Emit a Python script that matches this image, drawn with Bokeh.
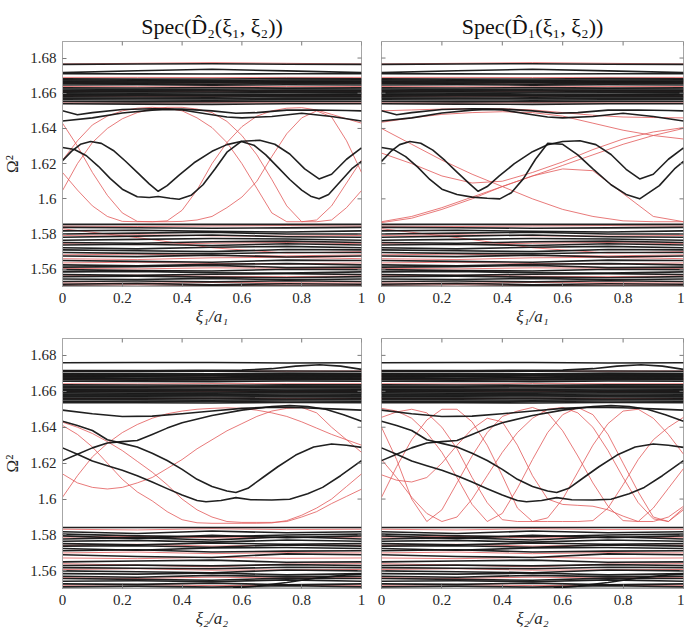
import math
from bokeh.plotting import figure
from bokeh.models import FixedTicker, CustomJSTickFormatter, Range1d
from bokeh.layouts import column, row
from bokeh.embed import file_html
from bokeh.resources import INLINE

# ---------------- data ----------------
X_TICKS = [0, 0.2, 0.4, 0.6, 0.8, 1]
Y_TICKS = [1.56, 1.58, 1.6, 1.62, 1.64, 1.66, 1.68]
TITLES = ["Spec(D̂₂(ξ₁, ξ₂))", "Spec(D̂₁(ξ₁, ξ₂))"]
XLABELS = ["ξ₁/a₁", "ξ₂/a₂"]
YLABEL = "Ω²"

X5 = [0.0, 0.25, 0.5, 0.75, 1.0]
X11 = [0.0, 0.1, 0.2, 0.3, 0.4, 0.5, 0.6, 0.7, 0.8, 0.9, 1.0]
X21 = [0.0, 0.05, 0.1, 0.15, 0.2, 0.25, 0.3, 0.35, 0.4, 0.45, 0.5,
       0.55, 0.6, 0.65, 0.7, 0.75, 0.8, 0.85, 0.9, 0.95, 1.0]

# --- top row: dense bands (values at X5) ---
TOP_UPPER_BLACK = [
    [1.6764, 1.6766, 1.6768, 1.6765, 1.6764],
    [1.6717, 1.6728, 1.6736, 1.6727, 1.6717],
    [1.6711, 1.6710, 1.6709, 1.6711, 1.6711],
    [1.6682, 1.6680, 1.6681, 1.6683, 1.6682],
    [1.6676, 1.6674, 1.6673, 1.6675, 1.6676],
    [1.6669, 1.6668, 1.6666, 1.6669, 1.6669],
    [1.6662, 1.6660, 1.6661, 1.6663, 1.6662],
    [1.6655, 1.6654, 1.6652, 1.6656, 1.6655],
    [1.6647, 1.6648, 1.6646, 1.6648, 1.6647],
    [1.6631, 1.6630, 1.6632, 1.6630, 1.6631],
    [1.6624, 1.6622, 1.6623, 1.6625, 1.6624],
    [1.6617, 1.6615, 1.6614, 1.6617, 1.6617],
    [1.6609, 1.6608, 1.6607, 1.6610, 1.6609],
    [1.6602, 1.6600, 1.6601, 1.6603, 1.6602],
    [1.6595, 1.6593, 1.6592, 1.6594, 1.6595],
    [1.6588, 1.6587, 1.6586, 1.6589, 1.6588],
    [1.6580, 1.6579, 1.6578, 1.6581, 1.6580],
    [1.6572, 1.6571, 1.6570, 1.6572, 1.6572],
    [1.6563, 1.6562, 1.6561, 1.6563, 1.6563],
    [1.6553, 1.6551, 1.6552, 1.6554, 1.6553],
    [1.6540, 1.6538, 1.6537, 1.6540, 1.6540],
]
TOP_UPPER_RED = [
    [1.6766, 1.6770, 1.6774, 1.6770, 1.6766],
    [1.6690, 1.6690, 1.6689, 1.6690, 1.6690],
    [1.6658, 1.6657, 1.6659, 1.6658, 1.6658],
    [1.6638, 1.6637, 1.6636, 1.6638, 1.6638],
    [1.6612, 1.6611, 1.6612, 1.6613, 1.6612],
    [1.6584, 1.6583, 1.6584, 1.6585, 1.6584],
    [1.6545, 1.6544, 1.6546, 1.6545, 1.6545],
]
TOP_LOWER_BLACK = [
    [1.5855, 1.5855, 1.5855, 1.5855, 1.5855],
    [1.5838, 1.5836, 1.5833, 1.5835, 1.5838],
    [1.5818, 1.5822, 1.5815, 1.5812, 1.5818],
    [1.5800, 1.5805, 1.5810, 1.5800, 1.5800],
    [1.5782, 1.5788, 1.5795, 1.5785, 1.5782],
    [1.5765, 1.5770, 1.5775, 1.5772, 1.5765],
    [1.5752, 1.5748, 1.5756, 1.5760, 1.5752],
    [1.5738, 1.5742, 1.5735, 1.5745, 1.5738],
    [1.5722, 1.5716, 1.5725, 1.5730, 1.5722],
    [1.5710, 1.5705, 1.5700, 1.5712, 1.5710],
    [1.5695, 1.5690, 1.5688, 1.5695, 1.5695],
    [1.5675, 1.5672, 1.5680, 1.5670, 1.5675],
    [1.5650, 1.5645, 1.5640, 1.5652, 1.5650],
    [1.5625, 1.5620, 1.5628, 1.5632, 1.5625],
    [1.5612, 1.5615, 1.5622, 1.5610, 1.5612],
    [1.5598, 1.5592, 1.5590, 1.5600, 1.5598],
    [1.5585, 1.5588, 1.5580, 1.5578, 1.5585],
    [1.5570, 1.5565, 1.5572, 1.5575, 1.5570],
    [1.5558, 1.5560, 1.5555, 1.5552, 1.5558],
    [1.5545, 1.5542, 1.5548, 1.5540, 1.5545],
    [1.5530, 1.5533, 1.5528, 1.5535, 1.5530],
    [1.5515, 1.5520, 1.5512, 1.5518, 1.5515],
    [1.5505, 1.5502, 1.5506, 1.5504, 1.5505],
]
TOP_LOWER_RED = [
    [1.5845, 1.5843, 1.5846, 1.5848, 1.5845],
    [1.5792, 1.5796, 1.5790, 1.5788, 1.5792],
    [1.5830, 1.5780, 1.5722, 1.5692, 1.5700],
    [1.5745, 1.5740, 1.5748, 1.5752, 1.5745],
    [1.5682, 1.5686, 1.5678, 1.5676, 1.5682],
    [1.5660, 1.5655, 1.5665, 1.5668, 1.5660],
    [1.5636, 1.5640, 1.5632, 1.5630, 1.5636],
    [1.5605, 1.5602, 1.5608, 1.5606, 1.5605],
    [1.5562, 1.5566, 1.5560, 1.5558, 1.5562],
    [1.5522, 1.5520, 1.5525, 1.5523, 1.5522],
    [1.5510, 1.5512, 1.5509, 1.5511, 1.5510],
]

# --- top row: gap curves (own knots) ---
TOP_U1_X = [0, 0.05, 0.1, 0.2, 0.3, 0.4, 0.5, 0.58, 0.65, 0.75, 0.85, 0.95, 1]
TOP_U1_Y = [1.6500, 1.6478, 1.6490, 1.6508, 1.6512, 1.6510, 1.6500, 1.6486, 1.6490, 1.6504, 1.6505, 1.6502, 1.6500]
TOP_U2_X = [0, 0.1, 0.2, 0.3, 0.35, 0.4, 0.5, 0.55, 0.6, 0.7, 0.8, 0.9, 1]
TOP_U2_Y = [1.6442, 1.6460, 1.6488, 1.6504, 1.6508, 1.6505, 1.6478, 1.6465, 1.6460, 1.6468, 1.6486, 1.6468, 1.6442]

TL_P_X = [0, 0.03, 0.06, 0.094, 0.13, 0.17, 0.21, 0.25, 0.29, 0.32, 0.35, 0.39, 0.44, 0.5,
          0.55, 0.6, 0.66, 0.71, 0.76, 0.81, 0.858, 0.9, 0.95, 1]
TL_P_Y = [1.6217, 1.6270, 1.6310, 1.6326, 1.6315, 1.6275, 1.6215, 1.6150, 1.6085, 1.6043, 1.6075, 1.6135, 1.6205, 1.6270,
          1.6308, 1.6327, 1.6333, 1.6310, 1.6255, 1.6170, 1.6113, 1.6140, 1.6225, 1.6289]
TL_Q_X = [0, 0.04, 0.08, 0.12, 0.16, 0.2, 0.25, 0.29, 0.32, 0.36, 0.39, 0.43, 0.47, 0.51,
          0.55, 0.598, 0.64, 0.68, 0.72, 0.76, 0.8, 0.83, 0.858, 0.89, 0.93, 0.97, 1]
TL_Q_Y = [1.6292, 1.6280, 1.6245, 1.6185, 1.6115, 1.6055, 1.6012, 1.6008, 1.6013, 1.6003, 1.5998, 1.6020, 1.6080, 1.6170,
          1.6265, 1.6326, 1.6305, 1.6250, 1.6180, 1.6110, 1.6050, 1.6015, 1.6000, 1.6025, 1.6100, 1.6175, 1.6213]
TL_RED_A = [1.6430, 1.6300, 1.6150, 1.6020, 1.5920, 1.5872, 1.5870, 1.5875, 1.5935, 1.6050, 1.6200,
            1.6320, 1.6410, 1.6470, 1.6500, 1.6515, 1.6518, 1.6505, 1.6480, 1.6455, 1.6430]
TL_RED_B = [1.6150, 1.6050, 1.5960, 1.5900, 1.5872, 1.5870, 1.5870, 1.5870, 1.5872, 1.5880, 1.5900,
            1.5950, 1.6010, 1.6100, 1.6240, 1.6370, 1.6460, 1.6500, 1.6465, 1.6330, 1.6150]
TL_RED_C = [1.6220, 1.6330, 1.6420, 1.6470, 1.6500, 1.6515, 1.6520, 1.6515, 1.6500, 1.6460, 1.6405,
            1.6320, 1.6200, 1.6060, 1.5920, 1.5870, 1.5870, 1.5880, 1.5960, 1.6090, 1.6220]
TL_RED_D = [1.6047, 1.6200, 1.6320, 1.6400, 1.6455, 1.6490, 1.6510, 1.6520, 1.6520, 1.6510, 1.6490,
            1.6440, 1.6360, 1.6250, 1.6110, 1.5960, 1.5870, 1.5870, 1.5880, 1.5950, 1.6047]

TR_P_X = [0, 0.03, 0.06, 0.094, 0.13, 0.17, 0.21, 0.25, 0.29, 0.32, 0.35, 0.39, 0.44, 0.5,
          0.55, 0.6, 0.657, 0.71, 0.76, 0.81, 0.855, 0.9, 0.95, 1]
TR_P_Y = [1.6213, 1.6268, 1.6308, 1.6326, 1.6316, 1.6277, 1.6218, 1.6152, 1.6088, 1.6043, 1.6070, 1.6130, 1.6200, 1.6268,
          1.6307, 1.6326, 1.6330, 1.6308, 1.6252, 1.6168, 1.6113, 1.6140, 1.6225, 1.6289]
TR_Q_X = [0, 0.04, 0.08, 0.12, 0.16, 0.2, 0.25, 0.3, 0.35, 0.392, 0.43, 0.47, 0.51, 0.55,
          0.6, 0.65, 0.7, 0.76, 0.81, 0.855, 0.92, 0.97, 1]
TR_Q_Y = [1.6292, 1.6280, 1.6240, 1.6180, 1.6110, 1.6055, 1.6025, 1.6010, 1.6003, 1.6000, 1.6035, 1.6115, 1.6225, 1.6315,
          1.6310, 1.6250, 1.6170, 1.6080, 1.6025, 1.6000, 1.6075, 1.6170, 1.6213]
TR_RED_1 = [1.6400, 1.6310, 1.6220, 1.6140, 1.6070, 1.6000, 1.5940, 1.5900, 1.5875, 1.5870, 1.5870]
TR_RED_2 = [1.5870, 1.5900, 1.5950, 1.6010, 1.6070, 1.6130, 1.6190, 1.6250, 1.6310, 1.6360, 1.6400]
TR_RED_3 = [1.6260, 1.6200, 1.6130, 1.6090, 1.6100, 1.6150, 1.6210, 1.6280, 1.6340, 1.6380, 1.6405]
TR_RED_4 = [1.5865, 1.5890, 1.5940, 1.6000, 1.6070, 1.6130, 1.6170, 1.6160, 1.6030, 1.5900, 1.5870]
TR_RED_5 = [1.6435, 1.6460, 1.6480, 1.6490, 1.6495, 1.6490, 1.6470, 1.6430, 1.6390, 1.6360, 1.6340]
TR_RED_6 = [1.6500, 1.6505, 1.6510, 1.6512, 1.6512, 1.6505, 1.6490, 1.6475, 1.6465, 1.6462, 1.6460]

# --- bottom row: dense bands (values at X5) ---
BOT_UPPER_BLACK = [
    [1.6759, 1.6760, 1.6760, 1.6758, 1.6759],
    [1.6712, 1.6711, 1.6712, 1.6713, 1.6712],
    [1.6700, 1.6699, 1.6698, 1.6701, 1.6700],
    [1.6694, 1.6693, 1.6692, 1.6695, 1.6694],
    [1.6688, 1.6686, 1.6687, 1.6689, 1.6688],
    [1.6682, 1.6681, 1.6680, 1.6683, 1.6682],
    [1.6676, 1.6674, 1.6675, 1.6677, 1.6676],
    [1.6670, 1.6669, 1.6668, 1.6671, 1.6670],
    [1.6664, 1.6662, 1.6663, 1.6665, 1.6664],
    [1.6656, 1.6655, 1.6654, 1.6657, 1.6656],
    [1.6636, 1.6635, 1.6634, 1.6636, 1.6636],
    [1.6628, 1.6627, 1.6626, 1.6629, 1.6628],
    [1.6620, 1.6619, 1.6618, 1.6621, 1.6620],
    [1.6612, 1.6611, 1.6610, 1.6613, 1.6612],
    [1.6605, 1.6603, 1.6604, 1.6606, 1.6605],
    [1.6598, 1.6597, 1.6596, 1.6599, 1.6598],
    [1.6591, 1.6589, 1.6590, 1.6592, 1.6591],
    [1.6584, 1.6583, 1.6582, 1.6585, 1.6584],
    [1.6577, 1.6575, 1.6576, 1.6578, 1.6577],
    [1.6570, 1.6569, 1.6568, 1.6571, 1.6570],
    [1.6562, 1.6561, 1.6560, 1.6563, 1.6562],
    [1.6553, 1.6552, 1.6551, 1.6554, 1.6553],
    [1.6545, 1.6543, 1.6544, 1.6546, 1.6545],
    [1.6537, 1.6536, 1.6535, 1.6538, 1.6537],
]
BOT_UPPER_RED = [
    [1.6713, 1.6714, 1.6713, 1.6712, 1.6713],
    [1.6685, 1.6684, 1.6686, 1.6685, 1.6685],
    [1.6668, 1.6667, 1.6669, 1.6668, 1.6668],
    [1.6642, 1.6641, 1.6643, 1.6642, 1.6642],
    [1.6600, 1.6601, 1.6600, 1.6599, 1.6600],
    [1.6560, 1.6559, 1.6561, 1.6560, 1.6560],
]
BOT_LOWER_BLACK = [
    [1.5842, 1.5842, 1.5842, 1.5842, 1.5842],
    [1.5818, 1.5808, 1.5822, 1.5812, 1.5818],
    [1.5805, 1.5795, 1.5790, 1.5800, 1.5805],
    [1.5795, 1.5780, 1.5798, 1.5785, 1.5795],
    [1.5778, 1.5785, 1.5772, 1.5790, 1.5778],
    [1.5765, 1.5770, 1.5760, 1.5772, 1.5765],
    [1.5752, 1.5745, 1.5755, 1.5748, 1.5752],
    [1.5738, 1.5740, 1.5732, 1.5745, 1.5738],
    [1.5725, 1.5715, 1.5728, 1.5730, 1.5725],
    [1.5712, 1.5718, 1.5705, 1.5710, 1.5712],
    [1.5690, 1.5680, 1.5675, 1.5695, 1.5690],
    [1.5650, 1.5655, 1.5660, 1.5648, 1.5650],
    [1.5630, 1.5632, 1.5628, 1.5635, 1.5630],
    [1.5618, 1.5615, 1.5612, 1.5620, 1.5618],
    [1.5600, 1.5595, 1.5590, 1.5605, 1.5600],
    [1.5585, 1.5582, 1.5588, 1.5578, 1.5585],
    [1.5570, 1.5565, 1.5575, 1.5568, 1.5570],
    [1.5558, 1.5553, 1.5548, 1.5560, 1.5558],
    [1.5542, 1.5545, 1.5540, 1.5550, 1.5542],
    [1.5528, 1.5525, 1.5532, 1.5522, 1.5528],
    [1.5512, 1.5515, 1.5510, 1.5518, 1.5512],
    [1.5503, 1.5502, 1.5504, 1.5502, 1.5503],
]
BOT_LOWER_RED = [
    [1.5832, 1.5828, 1.5835, 1.5830, 1.5832],
    [1.5788, 1.5792, 1.5784, 1.5786, 1.5788],
    [1.5742, 1.5748, 1.5738, 1.5744, 1.5742],
    [1.5700, 1.5705, 1.5696, 1.5702, 1.5700],
    [1.5672, 1.5668, 1.5676, 1.5670, 1.5672],
    [1.5640, 1.5632, 1.5622, 1.5638, 1.5640],
    [1.5608, 1.5612, 1.5604, 1.5606, 1.5608],
    [1.5562, 1.5558, 1.5565, 1.5560, 1.5562],
    [1.5520, 1.5524, 1.5518, 1.5521, 1.5520],
]

# --- bottom row: gap curves ---
BOT_TOPLINE_X = [0, 0.3, 0.6, 0.7, 0.78, 0.86, 0.93, 1]
BOT_TOPLINE_Y = [1.6716, 1.6716, 1.6718, 1.6726, 1.6740, 1.6748, 1.6740, 1.6722]
BOT_RISE_X = [0.57, 0.65, 0.75, 0.85, 0.95, 1]
BOT_RISE_Y = [1.5505, 1.5515, 1.5535, 1.5560, 1.5578, 1.5582]
BOT_B1_X = [0, 0.1, 0.2, 0.3, 0.4, 0.5, 0.6, 0.7, 0.8, 0.9, 1]
BOT_B1_Y = [1.6495, 1.6475, 1.6460, 1.6462, 1.6475, 1.6490, 1.6505, 1.6512, 1.6508, 1.6502, 1.6495]
BOT_B2_X = [0, 0.05, 0.1, 0.15, 0.2, 0.25, 0.3, 0.35, 0.4, 0.45, 0.5, 0.55, 0.58, 0.62, 0.67, 0.72, 0.78, 0.84, 0.9, 0.95, 1]
BOT_B2_Y = [1.6433, 1.6410, 1.6382, 1.6330, 1.6310, 1.6290, 1.6255, 1.6215, 1.6165, 1.6110, 1.6070, 1.6045, 1.6037, 1.6060, 1.6120, 1.6180, 1.6245, 1.6290, 1.6307, 1.6300, 1.6288]
BOT_B3_X = [0, 0.05, 0.1, 0.15, 0.2, 0.25, 0.3, 0.35, 0.4, 0.5, 0.6, 0.7, 0.76, 0.82, 0.88, 0.94, 1]
BOT_B3_Y = [1.6214, 1.6250, 1.6285, 1.6312, 1.6320, 1.6326, 1.6360, 1.6395, 1.6425, 1.6465, 1.6495, 1.6515, 1.6520, 1.6515, 1.6500, 1.6470, 1.6433]
BOT_B4_X = [0, 0.05, 0.1, 0.15, 0.2, 0.25, 0.3, 0.35, 0.4, 0.45, 0.48, 0.53, 0.58, 0.63, 0.7, 0.76, 0.82, 0.87, 0.93, 1]
BOT_B4_Y = [1.6285, 1.6250, 1.6212, 1.6186, 1.6160, 1.6130, 1.6095, 1.6058, 1.6022, 1.5992, 1.5985, 1.5992, 1.6008, 1.5996, 1.5995, 1.5999, 1.6030, 1.6065, 1.6130, 1.6214]

BL_RED_A = [1.6428, 1.6400, 1.6365, 1.6320, 1.6270, 1.6210, 1.6150, 1.6080, 1.6000, 1.5940, 1.5900,
            1.5875, 1.5870, 1.5870, 1.5870, 1.5875, 1.5900, 1.5930, 1.5975, 1.6015, 1.6055]
BL_RED_B = [1.6140, 1.6090, 1.6065, 1.6056, 1.6065, 1.6090, 1.6120, 1.6170, 1.6220, 1.6280, 1.6330,
            1.6380, 1.6420, 1.6460, 1.6490, 1.6505, 1.6510, 1.6480, 1.6400, 1.6330, 1.6260]
BL_RED_C = [1.6010, 1.6130, 1.6235, 1.6310, 1.6370, 1.6415, 1.6450, 1.6475, 1.6490, 1.6500, 1.6505,
            1.6508, 1.6505, 1.6495, 1.6480, 1.6460, 1.6430, 1.6395, 1.6360, 1.6330, 1.6300]
BL_RED_D = [1.6410, 1.6360, 1.6290, 1.6200, 1.6110, 1.6040, 1.5990, 1.5930, 1.5885, 1.5868, 1.5865,
            1.5865, 1.5865, 1.5865, 1.5867, 1.5880, 1.5910, 1.5950, 1.6000, 1.6070, 1.6140]

BR_RED_1 = [1.6400, 1.6220, 1.6000, 1.5875, 1.5940, 1.6090, 1.6240, 1.6370, 1.6460, 1.6490, 1.6510,
            1.6480, 1.6380, 1.6240, 1.6090, 1.5960, 1.5880, 1.5875, 1.5950, 1.6060, 1.6170]
BR_RED_2 = [1.6505, 1.6490, 1.6450, 1.6370, 1.6260, 1.6120, 1.5970, 1.5875, 1.5920, 1.6060, 1.6220,
            1.6370, 1.6470, 1.6510, 1.6470, 1.6360, 1.6200, 1.6040, 1.5900, 1.5875, 1.5950]
BR_RED_3 = [1.6010, 1.6180, 1.6330, 1.6440, 1.6500, 1.6500, 1.6430, 1.6300, 1.6130, 1.5950, 1.5875,
            1.5895, 1.6000, 1.6150, 1.6300, 1.6420, 1.6490, 1.6500, 1.6450, 1.6360, 1.6250]
BR_RED_4 = [1.6220, 1.6120, 1.6010, 1.5920, 1.5875, 1.5900, 1.6000, 1.6130, 1.6260, 1.6370, 1.6450,
            1.6500, 1.6510, 1.6480, 1.6400, 1.6270, 1.6120, 1.5980, 1.5890, 1.5875, 1.5940]
BR_RED_5 = [1.6135, 1.6105, 1.6095, 1.6120, 1.6200, 1.6300, 1.6390, 1.6450, 1.6430, 1.6300, 1.6130,
            1.6000, 1.5970, 1.5965, 1.5960, 1.5940, 1.5905, 1.5875, 1.5875, 1.5900, 1.5960]
BR_RED_6 = [1.6455, 1.6485, 1.6500, 1.6480, 1.6400, 1.6280, 1.6120, 1.5980, 1.5885, 1.5875, 1.5875,
            1.5875, 1.5875, 1.5875, 1.5880, 1.5950, 1.6080, 1.6220, 1.6330, 1.6400, 1.6455]

# ---------------- styling ----------------
SERIF = "Liberation Serif"
FRAME = "#a6a6a6"
TICK = "#7a7a7a"
BLACK = "#141414"
RED = "#e25a5a"
Y_MIN, Y_MAX = 1.5502, 1.6894
X_MIN, X_MAX = 0.0, 1.0


def style_axis(ax):
    ax.major_tick_in = 4
    ax.major_tick_out = 0
    ax.minor_tick_line_color = None
    ax.axis_line_color = FRAME
    ax.major_tick_line_color = TICK
    ax.major_label_text_font = SERIF
    ax.formatter = CustomJSTickFormatter(code="return String(Number(tick.toFixed(2)));")
    ax.major_label_text_font_size = "15px"
    ax.major_label_text_color = "#262626"
    ax.major_label_standoff = 6


def make_panel(width, height, borders, title, xlabel, ylab, reds, blacks):
    left, right, top, bottom = borders
    p = figure(width=width, height=height, x_range=Range1d(X_MIN, X_MAX),
               y_range=Range1d(Y_MIN, Y_MAX), output_backend="svg",
               toolbar_location=None, title=title,
               min_border_left=left, min_border_right=right,
               min_border_top=top, min_border_bottom=bottom)
    p.grid.visible = False
    p.outline_line_color = FRAME
    p.outline_line_width = 1
    p.background_fill_color = "white"
    p.border_fill_color = "white"
    if title:
        p.title.align = "center"
        p.title.text_font = SERIF
        p.title.text_font_size = "22px"
        p.title.text_font_style = "normal"
        p.title.text_color = "#111111"
        p.title.standoff = 5
    p.xaxis.ticker = FixedTicker(ticks=X_TICKS)
    style_axis(p.xaxis[0])
    p.xaxis.axis_label = xlabel
    p.xaxis.axis_label_text_font = SERIF
    p.xaxis.axis_label_text_font_size = "17px"
    p.xaxis.axis_label_text_font_style = "italic"
    p.xaxis.axis_label_text_color = "#262626"
    p.xaxis.axis_label_standoff = 1
    if ylab:
        p.yaxis.ticker = FixedTicker(ticks=Y_TICKS)
        style_axis(p.yaxis[0])
        p.yaxis.axis_label = YLABEL
        p.yaxis.axis_label_text_font = SERIF
        p.yaxis.axis_label_text_font_size = "17px"
        p.yaxis.axis_label_text_font_style = "normal"
        p.yaxis.axis_label_text_color = "#262626"
        p.yaxis.axis_label_standoff = 5
    else:
        p.yaxis.visible = False

    rx, ry = [], []
    for xs, ys in reds:
        rx.append(list(xs))
        ry.append(list(ys))
    p.multi_line(rx, ry, line_color=RED, line_width=0.9, line_alpha=0.9)
    bx, by = [], []
    for xs, ys in blacks:
        bx.append(list(xs))
        by.append(list(ys))
    p.multi_line(bx, by, line_color=BLACK, line_width=1.6, line_alpha=0.95,
                 line_join="round")

    # mirrored inward tick marks (box style); half of each dash is clipped by the frame
    p.scatter(x=X_TICKS, y=[Y_MAX] * len(X_TICKS), marker="dash", size=8,
              angle=math.pi / 2, line_color=TICK, line_width=1)
    p.scatter(x=[X_MAX] * len(Y_TICKS), y=Y_TICKS, marker="dash", size=8,
              line_color=TICK, line_width=1)
    if not ylab:
        p.scatter(x=[X_MIN] * len(Y_TICKS), y=Y_TICKS, marker="dash", size=8,
                  line_color=TICK, line_width=1)
    return p


def band_pairs(rows):
    return [(X5, r) for r in rows]


top_red_bands = band_pairs(TOP_UPPER_RED) + band_pairs(TOP_LOWER_RED)
top_black_bands = band_pairs(TOP_UPPER_BLACK) + band_pairs(TOP_LOWER_BLACK)
bot_red_bands = band_pairs(BOT_UPPER_RED) + band_pairs(BOT_LOWER_RED)
bot_black_bands = band_pairs(BOT_UPPER_BLACK) + band_pairs(BOT_LOWER_BLACK)

top_common_black = [(TOP_U1_X, TOP_U1_Y), (TOP_U2_X, TOP_U2_Y)]
bot_black_gap = [(BOT_TOPLINE_X, BOT_TOPLINE_Y), (BOT_RISE_X, BOT_RISE_Y),
                 (BOT_B1_X, BOT_B1_Y), (BOT_B2_X, BOT_B2_Y),
                 (BOT_B3_X, BOT_B3_Y), (BOT_B4_X, BOT_B4_Y)]

p1 = make_panel(371, 330, (60, 10, 41, 44), TITLES[0], XLABELS[0], True,
                top_red_bands + [(X21, TL_RED_A), (X21, TL_RED_B), (X21, TL_RED_C), (X21, TL_RED_D)],
                top_black_bands + top_common_black + [(TL_P_X, TL_P_Y), (TL_Q_X, TL_Q_Y)])
p2 = make_panel(313, 330, (10, 1, 41, 44), TITLES[1], XLABELS[0], False,
                top_red_bands + [(X11, TR_RED_1), (X11, TR_RED_2), (X11, TR_RED_3),
                                 (X11, TR_RED_4), (X11, TR_RED_5), (X11, TR_RED_6)],
                top_black_bands + top_common_black + [(TR_P_X, TR_P_Y), (TR_Q_X, TR_Q_Y)])
p3 = make_panel(371, 304, (60, 10, 8, 46), None, XLABELS[1], True,
                bot_red_bands + [(X21, BL_RED_A), (X21, BL_RED_B), (X21, BL_RED_C), (X21, BL_RED_D)],
                bot_black_bands + bot_black_gap)
p4 = make_panel(313, 304, (10, 1, 8, 46), None, XLABELS[1], False,
                bot_red_bands + [(X21, BR_RED_1), (X21, BR_RED_2), (X21, BR_RED_3),
                                 (X21, BR_RED_4), (X21, BR_RED_5), (X21, BR_RED_6)],
                bot_black_bands + bot_black_gap)

layout = column(row(p1, p2), row(p3, p4))
open("out.html", "w").write(file_html(layout, INLINE))
